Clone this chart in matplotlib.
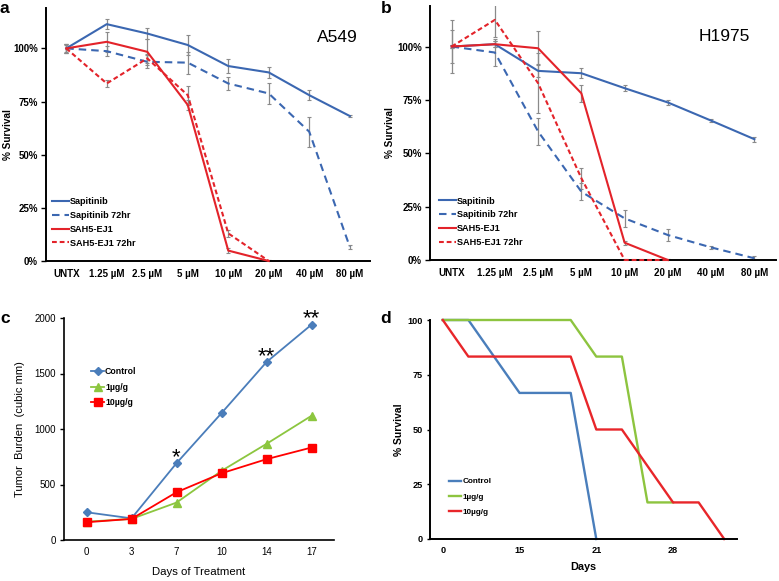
import matplotlib
matplotlib.use("Agg")
import matplotlib.pyplot as plt
from matplotlib.ticker import FuncFormatter

plt.rcParams["font.family"] = ["Liberation Sans", "DejaVu Sans"]

W, H = 779, 581

# ---- panels a / b: survival vs dose ----
doses = ["UNTX", "1.25 µM", "2.5 µM", "5 µM", "10 µM", "20 µM", "40 µM", "80 µM"]

sap_a = [100, 111.4, 107.0, 101.6, 91.7, 88.7, 78.0, 68.2]
sap_a_err = [2.0, 2.3, 2.6, 4.5, 3.4, 2.7, 2.3, 0.6]
sap72_a = [100, 98.7, 93.7, 93.3, 83.5, 78.8, 60.8, 6.7]
sap72_a_err = [2.0, 2.2, 3.0, 5.2, 3.0, 4.8, 7.0, 1.0]
sah_a = [100, 103.1, 98.4, 73.4, 4.9, 0.0]
sah_a_err = [2.0, 4.7, 6.0, 2.3, 1.2, 0.3]
sah72_a = [100, 83.5, 95.3, 78.0, 13.0, 0.0]
sah72_a_err = [1.5, 1.5, 2.0, 4.5, 1.7, 0.5]

sap_b = [100, 101.1, 88.6, 87.5, 80.5, 73.8, 65.3, 56.6]
sap_b_err = [0.5, 1.5, 3.0, 2.3, 1.5, 1.2, 0.6, 1.2]
sap72_b = [100, 97.2, 60.2, 32.0, 19.5, 11.7, 5.9, 0.8]
sap72_b_err = [7.8, 6.5, 6.2, 4.0, 3.9, 2.9, 0.8, 1.0]
sah_b = [100, 101.1, 99.2, 78.1, 8.1, 0.0]
sah_b_err = [0.5, 1.5, 8.0, 3.9, 1.0, 0.3]
sah72_b = [100, 112.5, 82.8, 38.3, 0.0, 0.0]
sah72_b_err = [12.5, 8.0, 14.0, 5.0, 0.5, 0.3]

series_names = ["Sapitinib", "Sapitinib 72hr", "SAH5-EJ1", "SAH5-EJ1 72hr"]

# ---- panel c: tumor burden ----
days_c = ["0", "3", "7", "10", "14", "17"]
control_c = [250, 195, 692, 1143, 1603, 1940]
low_c = [165, 190, 337, 623, 866, 1119]
high_c = [160, 190, 430, 601, 728, 833]
stars_c = {2: "*", 4: "**", 5: "**"}

# ---- panel d: survival over time (category positions) ----
days_d_pos = [0, 3, 6, 9]
days_d_labels = ["0", "15", "21", "28"]
control_d_x = [0, 1, 3, 5, 6]
control_d_y = [100, 100, 66.7, 66.7, 0]
low_d_x = [0, 5, 6, 7, 8, 9]
low_d_y = [100, 100, 83.3, 83.3, 16.7, 16.7]
high_d_x = [0, 1, 5, 6, 7, 9, 10, 11]
high_d_y = [100, 83.3, 83.3, 50, 50, 16.7, 16.7, 0]
group_names = ["Control", "1µg/g", "10µg/g"]

BLUE = "#3B67B1"
RED = "#E3232A"
GRAY = "#8A8A8A"


def rect(l, t, r, b):
    return [l / W, 1 - b / H, (r - l) / W, (b - t) / H]


def style_axes(ax, lw=1.4):
    for s in ["top", "right"]:
        ax.spines[s].set_visible(False)
    for s in ["left", "bottom"]:
        ax.spines[s].set_linewidth(lw)
        ax.spines[s].set_color("black")


def dose_panel(ax, data, label, label_xy):
    sap, sap_e, sap72, sap72_e, sah, sah_e, sah72, sah72_e = data
    x8 = list(range(len(doses)))
    x6 = list(range(len(sah)))
    styles = [
        (x8, sap, sap_e, BLUE, "-"),
        (x8, sap72, sap72_e, BLUE, (0, (3.6, 2.4))),
        (x6, sah, sah_e, RED, "-"),
        (x6, sah72, sah72_e, RED, (0, (2.3, 1.4))),
    ]
    for (xs, ys, es, c, ls), name in zip(styles, series_names):
        ax.errorbar(xs, ys, yerr=es, fmt="none", ecolor=GRAY, elinewidth=0.9,
                    capsize=1.5, capthick=0.8, zorder=2)
        ax.plot(xs, ys, color=c, linestyle=ls, lw=1.5, label=name, zorder=3,
                clip_on=False)
    ax.set_xlim(-0.5, 7.5)
    ax.set_ylim(0, 119)
    ax.set_yticks([0, 25, 50, 75, 100])
    ax.yaxis.set_major_formatter(FuncFormatter(lambda v, p: f"{v:.0f}%"))
    ax.set_xticks(x8)
    ax.set_xticklabels(doses)
    style_axes(ax)
    ax.tick_params(axis="x", length=0, pad=5.5, labelsize=7)
    ax.tick_params(axis="y", length=3.5, width=1.0, pad=2.5, labelsize=7)
    for t in ax.get_xticklabels() + ax.get_yticklabels():
        t.set_fontweight("bold")
    ax.set_ylabel("% Survival", fontsize=7.2, fontweight="bold")
    ax.text(label_xy[0], label_xy[1], label, transform=ax.transAxes,
            fontsize=12.5, ha="center", va="center")


fig = plt.figure(figsize=(W / 100, H / 100), dpi=100)

# panel a
ax_a = fig.add_axes(rect(46, 8, 370, 261))
dose_panel(ax_a, (sap_a, sap_a_err, sap72_a, sap72_a_err, sah_a, sah_a_err,
                  sah72_a, sah72_a_err), "A549", (0.898, 0.885))
ax_a.yaxis.set_label_coords(-0.103, 0.5)
ax_a.legend(loc="upper left", bbox_to_anchor=(0.02, 0.252), frameon=False,
            prop={"size": 6.6, "weight": "bold"}, handlelength=1.8,
            handletextpad=0.1, labelspacing=0.52, borderpad=0, borderaxespad=0)

# panel b
ax_b = fig.add_axes(rect(430, 6, 776, 260))
dose_panel(ax_b, (sap_b, sap_b_err, sap72_b, sap72_b_err, sah_b, sah_b_err,
                  sah72_b, sah72_b_err), "H1975", (0.85, 0.878))
ax_b.yaxis.set_label_coords(-0.1, 0.5)
ax_b.legend(loc="upper left", bbox_to_anchor=(0.027, 0.25), frameon=False,
            prop={"size": 6.6, "weight": "bold"}, handlelength=1.8,
            handletextpad=0.1, labelspacing=0.52, borderpad=0, borderaxespad=0)

# panel c
ax_c = fig.add_axes(rect(64, 318, 334, 540))
xc = list(range(len(days_c)))
ax_c.plot(xc, control_c, color="#4A7DBA", marker="D", ms=4.2, lw=1.3,
          label=group_names[0], clip_on=False, zorder=3)
ax_c.plot(xc, low_c, color="#8CC63F", marker="^", ms=5.5, lw=1.3,
          label=group_names[1], clip_on=False, zorder=3)
ax_c.plot(xc, high_c, color="#FF0000", marker="s", ms=5.2, lw=1.3,
          label=group_names[2], clip_on=False, zorder=4)
for i, s in stars_c.items():
    ax_c.annotate(s, (xc[i], control_c[i]), xytext=(0, 4), textcoords="offset points",
                  ha="center", va="center", fontsize=16, annotation_clip=False)
ax_c.set_xlim(-0.5, 5.5)
ax_c.set_ylim(0, 2000)
ax_c.set_yticks([0, 500, 1000, 1500, 2000])
ax_c.set_xticks(xc)
ax_c.set_xticklabels(days_c)
style_axes(ax_c, lw=1.2)
ax_c.tick_params(axis="x", length=0, pad=5, labelsize=7)
ax_c.tick_params(axis="y", length=3, width=1.0, pad=3, labelsize=7)
ax_c.set_ylabel("Tumor  Burden  (cubic mm)", fontsize=8)
ax_c.yaxis.set_label_coords(-0.144, 0.5)
ax_c.set_xlabel("Days of Treatment", fontsize=8.2)
ax_c.xaxis.set_label_coords(0.5, -0.12)
ax_c.legend(loc="upper left", bbox_to_anchor=(0.1, 0.778), frameon=False,
            prop={"size": 6.3, "weight": "bold"}, handlelength=1.5,
            handletextpad=0.1, labelspacing=0.75, borderpad=0, borderaxespad=0)

# panel d
ax_d = fig.add_axes(rect(430, 320, 737, 539))
ax_d.plot(control_d_x, control_d_y, color="#4A7EBB", lw=1.7,
          label=group_names[0], clip_on=False)
ax_d.plot(low_d_x, low_d_y, color="#8DC43F", lw=1.7,
          label=group_names[1], clip_on=False)
ax_d.plot(high_d_x, high_d_y, color="#E8262A", lw=1.7,
          label=group_names[2], clip_on=False)
ax_d.set_xlim(-0.5, 11.5)
ax_d.set_ylim(0, 100)
ax_d.set_yticks([0, 25, 50, 75, 100])
ax_d.set_xticks(days_d_pos)
ax_d.set_xticklabels(days_d_labels)
style_axes(ax_d)
ax_d.tick_params(axis="x", length=0, pad=4.7, labelsize=6.6)
ax_d.tick_params(axis="y", length=2.5, width=1.0, pad=2.8, labelsize=6.6)
for t in ax_d.get_xticklabels() + ax_d.get_yticklabels():
    t.set_fontweight("bold")
ax_d.set_ylabel("% Survival", fontsize=7.4, fontweight="bold")
ax_d.yaxis.set_label_coords(-0.085, 0.5)
ax_d.set_xlabel("Days", fontsize=7.8, fontweight="bold")
ax_d.xaxis.set_label_coords(0.5, -0.103)
ax_d.legend(loc="upper left", bbox_to_anchor=(0.062, 0.28), frameon=False,
            prop={"size": 5.9, "weight": "bold"}, handlelength=1.5,
            handletextpad=0.1, labelspacing=0.9, borderpad=0, borderaxespad=0)

# panel letters
for letter, px, py in [("a", 0, 13), ("b", 381, 13), ("c", 0, 323), ("d", 380, 323)]:
    fig.text(px / W, 1 - py / H, letter, fontsize=12.5, fontweight="bold",
             ha="left", va="baseline")

fig.savefig("out.png", dpi=100)
